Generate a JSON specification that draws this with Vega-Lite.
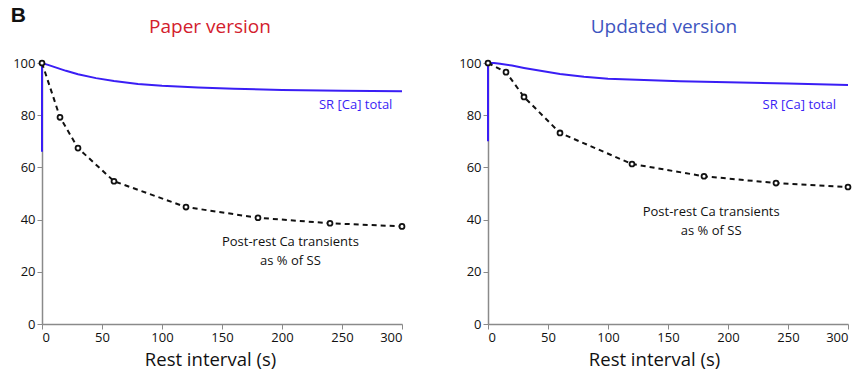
{
  "$schema": "https://vega.github.io/schema/vega-lite/v6.json",
  "padding": {"left": 10, "top": 4, "right": 8, "bottom": 0},
  "spacing": 49,
  "title": {"text": "B", "anchor": "start", "frame": "bounds", "fontSize": 21, "fontWeight": "bold", "font": "Liberation Sans", "color": "#111", "offset": -8, "dx": -2},
  "config": {
    "view": {"stroke": null},
    "font": "Open Sans",
    "axis": {
      "grid": false,
      "domainColor": "#8a8a8a",
      "tickColor": "#8a8a8a",
      "domainWidth": 1.5,
      "labelColor": "#111",
      "labelFontSize": 13,
      "titleFontSize": 18.5,
      "titleFontWeight": "normal",
      "titleColor": "#111",
      "tickSize": 5,
      "labelPadding": 2
    }
  },
  "datasets": {
    "d": [
      {"panel": "paper", "series": "sr", "o": 0, "t": 0, "v": 66},
      {"panel": "paper", "series": "sr", "o": 1, "t": 0, "v": 100},
      {"panel": "paper", "series": "sr", "o": 2, "t": 5, "v": 99.3},
      {"panel": "paper", "series": "sr", "o": 3, "t": 10, "v": 98.5},
      {"panel": "paper", "series": "sr", "o": 4, "t": 20, "v": 97},
      {"panel": "paper", "series": "sr", "o": 5, "t": 30, "v": 95.7},
      {"panel": "paper", "series": "sr", "o": 6, "t": 45, "v": 94.2},
      {"panel": "paper", "series": "sr", "o": 7, "t": 60, "v": 93.1},
      {"panel": "paper", "series": "sr", "o": 8, "t": 80, "v": 92},
      {"panel": "paper", "series": "sr", "o": 9, "t": 100, "v": 91.3},
      {"panel": "paper", "series": "sr", "o": 10, "t": 130, "v": 90.6},
      {"panel": "paper", "series": "sr", "o": 11, "t": 160, "v": 90.1},
      {"panel": "paper", "series": "sr", "o": 12, "t": 200, "v": 89.7},
      {"panel": "paper", "series": "sr", "o": 13, "t": 250, "v": 89.4},
      {"panel": "paper", "series": "sr", "o": 14, "t": 300, "v": 89.2},
      {"panel": "paper", "series": "pr", "o": 0, "t": 0, "v": 100},
      {"panel": "paper", "series": "pr", "o": 1, "t": 15, "v": 79.2},
      {"panel": "paper", "series": "pr", "o": 2, "t": 30, "v": 67.4},
      {"panel": "paper", "series": "pr", "o": 3, "t": 60, "v": 54.7},
      {"panel": "paper", "series": "pr", "o": 4, "t": 120, "v": 44.8},
      {"panel": "paper", "series": "pr", "o": 5, "t": 180, "v": 40.7},
      {"panel": "paper", "series": "pr", "o": 6, "t": 240, "v": 38.6},
      {"panel": "paper", "series": "pr", "o": 7, "t": 300, "v": 37.4},
      {"panel": "updated", "series": "sr", "o": 0, "t": 0, "v": 70},
      {"panel": "updated", "series": "sr", "o": 1, "t": 0, "v": 100},
      {"panel": "updated", "series": "sr", "o": 2, "t": 5, "v": 100},
      {"panel": "updated", "series": "sr", "o": 3, "t": 10, "v": 99.7},
      {"panel": "updated", "series": "sr", "o": 4, "t": 20, "v": 99},
      {"panel": "updated", "series": "sr", "o": 5, "t": 30, "v": 98.1},
      {"panel": "updated", "series": "sr", "o": 6, "t": 45, "v": 96.9},
      {"panel": "updated", "series": "sr", "o": 7, "t": 60, "v": 95.8},
      {"panel": "updated", "series": "sr", "o": 8, "t": 80, "v": 94.7},
      {"panel": "updated", "series": "sr", "o": 9, "t": 100, "v": 94},
      {"panel": "updated", "series": "sr", "o": 10, "t": 130, "v": 93.5},
      {"panel": "updated", "series": "sr", "o": 11, "t": 160, "v": 93},
      {"panel": "updated", "series": "sr", "o": 12, "t": 200, "v": 92.6},
      {"panel": "updated", "series": "sr", "o": 13, "t": 250, "v": 92.1},
      {"panel": "updated", "series": "sr", "o": 14, "t": 300, "v": 91.6},
      {"panel": "updated", "series": "pr", "o": 0, "t": 0, "v": 100},
      {"panel": "updated", "series": "pr", "o": 1, "t": 15, "v": 96.5},
      {"panel": "updated", "series": "pr", "o": 2, "t": 30, "v": 87},
      {"panel": "updated", "series": "pr", "o": 3, "t": 60, "v": 73.2},
      {"panel": "updated", "series": "pr", "o": 4, "t": 120, "v": 61.3},
      {"panel": "updated", "series": "pr", "o": 5, "t": 180, "v": 56.6},
      {"panel": "updated", "series": "pr", "o": 6, "t": 240, "v": 54},
      {"panel": "updated", "series": "pr", "o": 7, "t": 300, "v": 52.5}
    ],
    "labels": [
      {"panel": "paper", "kind": "sr", "t": 292, "v": 84, "text": "SR [Ca] total"},
      {"panel": "paper", "kind": "pr", "t": 207, "v": 31.4, "text": "Post-rest Ca transients"},
      {"panel": "paper", "kind": "pr", "t": 207, "v": 24.1, "text": "as % of SS"},
      {"panel": "updated", "kind": "sr", "t": 290, "v": 84, "text": "SR [Ca] total"},
      {"panel": "updated", "kind": "pr", "t": 186, "v": 43, "text": "Post-rest Ca transients"},
      {"panel": "updated", "kind": "pr", "t": 186, "v": 35.6, "text": "as % of SS"}
    ]
  },
  "hconcat": [
    {
      "width": 360,
      "height": 261,
      "title": {"text": "Paper version", "color": "#d3202c", "fontSize": 19, "fontWeight": "normal", "offset": 20, "dx": -12},
      "encoding": {
        "x": {"field": "t", "type": "quantitative", "scale": {"domain": [0, 300], "nice": false}, "axis": {"values": [0, 50, 100, 150, 200, 250, 300], "title": "Rest interval (s)", "labelPadding": 2, "titlePadding": 6, "titleX": 168}},
        "y": {"field": "v", "type": "quantitative", "scale": {"domain": [0, 100], "nice": false}, "axis": {"values": [0, 20, 40, 60, 80, 100], "title": null}}
      },
      "layer": [
        {"data": {"name": "d"}, "transform": [{"filter": "datum.panel == 'paper' && datum.series == 'sr'"}], "mark": {"type": "line", "color": "#3a1ef5", "strokeWidth": 2, "clip": false}, "encoding": {"order": {"field": "o"}}},
        {"data": {"name": "d"}, "transform": [{"filter": "datum.panel == 'paper' && datum.series == 'pr'"}], "mark": {"type": "line", "color": "#111", "strokeWidth": 2, "strokeDash": [5, 4]}, "encoding": {"order": {"field": "o"}}},
        {"data": {"name": "d"}, "transform": [{"filter": "datum.panel == 'paper' && datum.series == 'pr'"}], "mark": {"type": "point", "filled": false, "fill": "#fff", "fillOpacity": 1, "stroke": "#111", "strokeWidth": 1.8, "size": 24, "opacity": 1}},
        {"data": {"name": "labels"}, "transform": [{"filter": "datum.panel == 'paper' && datum.kind == 'sr'"}], "mark": {"type": "text", "align": "right", "baseline": "middle", "fontSize": 13, "color": "#3a1ef5"}, "encoding": {"text": {"field": "text"}}},
        {"data": {"name": "labels"}, "transform": [{"filter": "datum.panel == 'paper' && datum.kind == 'pr'"}], "mark": {"type": "text", "align": "center", "baseline": "middle", "fontSize": 13, "color": "#111"}, "encoding": {"text": {"field": "text"}}}
      ]
    },
    {
      "width": 360,
      "height": 261,
      "title": {"text": "Updated version", "color": "#3e55c0", "fontSize": 19, "fontWeight": "normal", "offset": 20, "dx": -4},
      "encoding": {
        "x": {"field": "t", "type": "quantitative", "scale": {"domain": [0, 300], "nice": false}, "axis": {"values": [0, 50, 100, 150, 200, 250, 300], "title": "Rest interval (s)", "labelPadding": 2, "titlePadding": 6, "titleX": 166}},
        "y": {"field": "v", "type": "quantitative", "scale": {"domain": [0, 100], "nice": false}, "axis": {"values": [0, 20, 40, 60, 80, 100], "title": null}}
      },
      "layer": [
        {"data": {"name": "d"}, "transform": [{"filter": "datum.panel == 'updated' && datum.series == 'sr'"}], "mark": {"type": "line", "color": "#3a1ef5", "strokeWidth": 2, "clip": false}, "encoding": {"order": {"field": "o"}}},
        {"data": {"name": "d"}, "transform": [{"filter": "datum.panel == 'updated' && datum.series == 'pr'"}], "mark": {"type": "line", "color": "#111", "strokeWidth": 2, "strokeDash": [5, 4]}, "encoding": {"order": {"field": "o"}}},
        {"data": {"name": "d"}, "transform": [{"filter": "datum.panel == 'updated' && datum.series == 'pr'"}], "mark": {"type": "point", "filled": false, "fill": "#fff", "fillOpacity": 1, "stroke": "#111", "strokeWidth": 1.8, "size": 24, "opacity": 1}},
        {"data": {"name": "labels"}, "transform": [{"filter": "datum.panel == 'updated' && datum.kind == 'sr'"}], "mark": {"type": "text", "align": "right", "baseline": "middle", "fontSize": 13, "color": "#3a1ef5"}, "encoding": {"text": {"field": "text"}}},
        {"data": {"name": "labels"}, "transform": [{"filter": "datum.panel == 'updated' && datum.kind == 'pr'"}], "mark": {"type": "text", "align": "center", "baseline": "middle", "fontSize": 13, "color": "#111"}, "encoding": {"text": {"field": "text"}}}
      ]
    }
  ]
}
